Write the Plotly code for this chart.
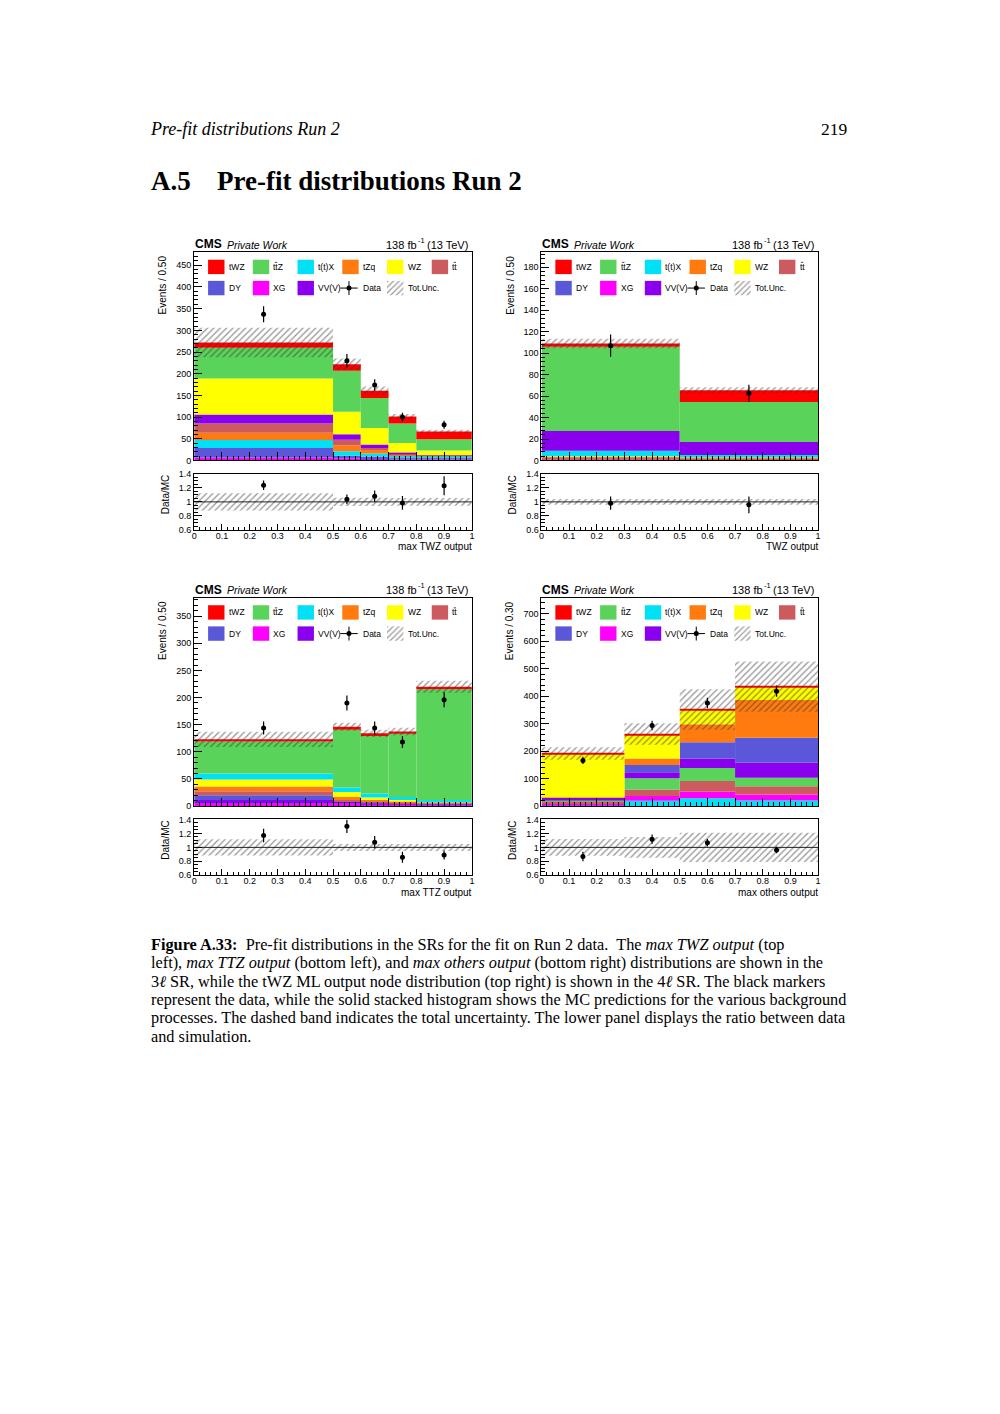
import numpy as np
import plotly.graph_objects as go

# page coordinates are those of the 1000x1414 page; the figure sits inside the 8px body margin
OFF = 8
WF, HF = 984, 1398

# ---------------- data ----------------
proc_labels = {"tWZ": "tWZ", "ttZ": "ttZ", "ttX": "t(t)X", "tZq": "tZq", "WZ": "WZ",
               "tt": "tt", "DY": "DY", "XG": "XG", "VVV": "VV(V)"}
overlined = {"ttZ", "tt"}
proc_colors = {"tWZ": "#ff0000", "ttZ": "#5ad35a", "ttX": "#00e1f5", "tZq": "#ff7b10",
               "WZ": "#ffff00", "tt": "#cc5b60", "DY": "#5b57d9", "XG": "#ff00ff",
               "VVV": "#8a00ee"}
legend_rows = [["tWZ", "ttZ", "ttX", "tZq", "WZ", "tt"], ["DY", "XG", "VVV"]]

# Panel A: max TWZ output (3l SR)
a_edges = [0.0, 0.5, 0.6, 0.7, 0.8, 1.0]
a_order = ["XG", "DY", "ttX", "tZq", "tt", "VVV", "WZ", "ttZ", "tWZ"]
a_yields = {
    "XG": [7, 5, 4, 3, 3],
    "DY": [22, 6, 4.5, 3, 4],
    "ttX": [18, 10.5, 7.5, 4.5, 4],
    "tZq": [17, 13.5, 8, 2, 0.5],
    "tt": [21, 13, 5, 2, 0.5],
    "VVV": [21, 12.5, 8, 4, 0.5],
    "WZ": [83, 52, 38, 22, 10.5],
    "ttZ": [71, 94.5, 69, 44.5, 26],
    "tWZ": [12, 15, 17, 16.5, 18],
}
a_data = [337, 230, 174, 100, 82.5]
a_data_err = [18.4, 15.2, 13.2, 10.0, 9.1]
a_unc_rel = [0.125, 0.06, 0.06, 0.055, 0.055]

# Panel B: TWZ output (4l SR)
b_edges = [0.0, 0.5, 1.0]
b_order = ["XG", "tt", "DY", "tZq", "WZ", "ttX", "VVV", "ttZ", "tWZ"]
b_yields = {
    "XG": [1, 1],
    "tt": [2.5, 1.5],
    "DY": [0, 0],
    "tZq": [0.3, 0.2],
    "WZ": [0.2, 0.1],
    "ttX": [5, 2.2],
    "VVV": [18.5, 12.3],
    "ttZ": [78.5, 37.2],
    "tWZ": [3, 11],
}
b_data = [107, 62.7]
b_data_err = [10.3, 7.9]
b_unc_rel = [0.04, 0.04]

# Panel C: max TTZ output (3l SR)
c_edges = [0.0, 0.5, 0.6, 0.7, 0.8, 1.0]
c_order = ["XG", "VVV", "DY", "tt", "tZq", "WZ", "ttX", "ttZ", "tWZ"]
c_yields = {
    "XG": [4, 4, 3, 3, 3],
    "VVV": [7, 4, 2, 1.5, 1],
    "DY": [9, 1, 1, 0.5, 0.5],
    "tt": [7, 2, 2, 1.5, 1],
    "tZq": [9, 5.5, 3, 1.5, 0.5],
    "WZ": [13, 9.5, 4.5, 3, 0.5],
    "ttX": [11, 8, 7.5, 5.5, 4.5],
    "ttZ": [59, 106.5, 106, 117.5, 204.5],
    "tWZ": [4, 5.5, 5, 3.5, 4.5],
}
c_data = [144, 190, 144, 118, 196]
c_data_err = [12.0, 13.8, 12.0, 10.9, 14.0]
c_unc_rel = [0.115, 0.05, 0.05, 0.05, 0.05]

# Panel D: max others output (3l SR)
d_edges = [0.0, 0.3, 0.5, 0.7, 1.0]
d_order = ["ttX", "XG", "tt", "ttZ", "VVV", "DY", "tZq", "WZ", "tWZ"]
d_yields = {
    "ttX": [3, 19, 28, 20],
    "XG": [4, 17, 24, 22],
    "tt": [11, 24, 39, 30],
    "ttZ": [2, 41, 47, 31],
    "VVV": [10, 22, 35, 55],
    "DY": [0.5, 26, 59, 90],
    "tZq": [0.5, 24, 66, 138],
    "WZ": [157, 85.5, 50, 45],
    "tWZ": [3, 3.5, 3.5, 3.5],
}
d_data = [166, 293, 375, 418]
d_data_err = [12.9, 17.1, 19.4, 20.4]
d_unc_rel = [0.12, 0.15, 0.21, 0.21]

ratio_ticks = [0.6, 0.8, 1.0, 1.2, 1.4]

caption_lines = [
    "<b>Figure A.33:</b>  Pre-fit distributions in the SRs for the fit on Run 2 data.  The <i>max TWZ output</i> (top",
    "left), <i>max TTZ output</i> (bottom left), and <i>max others output</i> (bottom right) distributions are shown in the",
    "3<i>\u2113</i> SR, while the tWZ ML output node distribution (top right) is shown in the 4<i>\u2113</i> SR. The black markers",
    "represent the data, while the solid stacked histogram shows the MC predictions for the various background",
    "processes. The dashed band indicates the total uncertainty. The lower panel displays the ratio between data",
    "and simulation.",
]

# ---------------- layout geometry (page pixels) ----------------
panels = [
    dict(edges=a_edges, order=a_order, yields=a_yields, data=a_data, err=a_data_err, unc=a_unc_rel,
         ymax=480, dtick=50, minor=10, ytitle="Events / 0.50", xtitle="max TWZ output",
         L=192.3, R=471.7, T=249, B=458.7, RT=472.3, RB=528.5),
    dict(edges=b_edges, order=b_order, yields=b_yields, data=b_data, err=b_data_err, unc=b_unc_rel,
         ymax=194, dtick=20, minor=4, ytitle="Events / 0.50", xtitle="TWZ output",
         L=541.7, R=820.0, T=249, B=458.7, RT=472.3, RB=528.5),
    dict(edges=c_edges, order=c_order, yields=c_yields, data=c_data, err=c_data_err, unc=c_unc_rel,
         ymax=384, dtick=50, minor=10, ytitle="Events / 0.50", xtitle="max TTZ output",
         L=192.3, R=471.7, T=597, B=806.7, RT=820.3, RB=876.5),
    dict(edges=d_edges, order=d_order, yields=d_yields, data=d_data, err=d_data_err, unc=d_unc_rel,
         ymax=758, dtick=100, minor=20, ytitle="Events / 0.30", xtitle="max others output",
         L=541.7, R=820.0, T=597, B=806.7, RT=820.3, RB=876.5),
]

SANS = "Liberation Sans"
SERIF = "Liberation Serif"

fig = go.Figure()
annotations = []
shapes = []
layout = {}


def fx(x):
    return (x - OFF) / WF


def fy(y):
    return 1 - (y - OFF) / HF


def ax_names(i):
    return ("x" if i == 1 else f"x{i}", "y" if i == 1 else f"y{i}",
            "xaxis" if i == 1 else f"xaxis{i}", "yaxis" if i == 1 else f"yaxis{i}")


def txt(x, y, text, size, family=SANS, xanchor="left", yanchor="middle", angle=0):
    annotations.append(dict(x=x, y=y, xref="x9", yref="y9", xanchor=xanchor, yanchor=yanchor,
                            text=text, textangle=angle, showarrow=False, borderpad=0,
                            font=dict(family=family, size=size, color="black")))


hatch = dict(shape="/", fgcolor="#333333", bgcolor="rgba(0,0,0,0)", size=4.5, solidity=0.3,
             fillmode="overlay")

common_axis = dict(showline=True, linecolor="black", linewidth=1, mirror=True, showgrid=False,
                   zeroline=False, ticks="inside", tickcolor="black", tickwidth=1,
                   tickfont=dict(family=SANS, size=9, color="black"))

for k, p in enumerate(panels):
    i1, i2 = 2 * k + 1, 2 * k + 2
    xm, ym, xmk, ymk = ax_names(i1)
    xr, yr, xrk, yrk = ax_names(i2)
    edges = np.array(p["edges"], dtype=float)
    centers = 0.5 * (edges[:-1] + edges[1:])
    widths = np.diff(edges)

    base = np.zeros(len(centers))
    for proc in p["order"]:
        vals = np.array(p["yields"][proc], dtype=float)
        fig.add_trace(go.Bar(x=centers, y=vals, base=base.copy(), width=widths,
                             marker=dict(color=proc_colors[proc], line=dict(width=0)),
                             xaxis=xm, yaxis=ym, showlegend=False, hoverinfo="skip"))
        base = base + vals
    total = base
    unc = np.array(p["unc"]) * total
    fig.add_trace(go.Bar(x=centers, y=2 * unc, base=total - unc, width=widths,
                         marker=dict(color="rgba(0,0,0,0)", line=dict(width=0), pattern=hatch),
                         xaxis=xm, yaxis=ym, showlegend=False, hoverinfo="skip"))
    data = np.array(p["data"], dtype=float)
    err = np.array(p["err"], dtype=float)
    fig.add_trace(go.Scatter(x=centers, y=data, mode="markers",
                             marker=dict(color="black", size=5),
                             error_y=dict(type="data", array=err, color="black", thickness=1.2, width=0),
                             xaxis=xm, yaxis=ym, showlegend=False, hoverinfo="skip"))

    # ratio panel
    rel = np.array(p["unc"])
    fig.add_trace(go.Bar(x=centers, y=2 * rel, base=1 - rel, width=widths,
                         marker=dict(color="rgba(0,0,0,0)", line=dict(width=0), pattern=hatch),
                         xaxis=xr, yaxis=yr, showlegend=False, hoverinfo="skip"))
    fig.add_trace(go.Scatter(x=[0, 1], y=[1, 1], mode="lines", line=dict(color="#222", width=1),
                             xaxis=xr, yaxis=yr, showlegend=False, hoverinfo="skip"))
    fig.add_trace(go.Scatter(x=centers, y=data / total, mode="markers",
                             marker=dict(color="black", size=5),
                             error_y=dict(type="data", array=err / total, color="black", thickness=1.2, width=0),
                             xaxis=xr, yaxis=yr, showlegend=False, hoverinfo="skip"))

    dom_x = [fx(p["L"]), fx(p["R"])]
    layout[xmk] = dict(common_axis, domain=dom_x, anchor=ym, range=[0, 1], showticklabels=False,
                       dtick=0.1, tick0=0, ticklen=8,
                       minor=dict(ticks="inside", ticklen=4, dtick=0.02, tickcolor="black"))
    layout[ymk] = dict(common_axis, domain=[fy(p["B"]), fy(p["T"])], anchor=xm,
                       range=[0, p["ymax"]], dtick=p["dtick"], tick0=0, ticklen=8,
                       minor=dict(ticks="inside", ticklen=4, dtick=p["minor"], tickcolor="black"))
    layout[xrk] = dict(common_axis, domain=dom_x, anchor=yr, range=[0, 1], dtick=0.1, tick0=0,
                       ticklen=6, ticklabelstandoff=-3,
                       minor=dict(ticks="inside", ticklen=3, dtick=0.02, tickcolor="black"))
    layout[yrk] = dict(common_axis, domain=[fy(p["RB"]), fy(p["RT"])], anchor=xr,
                       range=[0.6, 1.4], tickvals=ratio_ticks, ticklen=8,
                       minor=dict(ticks="inside", ticklen=4, dtick=0.05, tickcolor="black"))

    L, R, T = p["L"], p["R"], p["T"]
    # header texts
    txt(L, T - 8, "<b>CMS</b>", 12)
    txt(L + 32, T - 7.5, "<i>Private Work</i>", 10.5)
    txt(R - 3, T - 7.5, "(13 TeV)", 11, xanchor="right")
    txt(R - 55.5, T - 12, "-1", 7.5)
    txt(R - 54.5, T - 7.5, "138 fb", 11, xanchor="right")
    # axis titles
    txt(L - 32, T + 33, p["ytitle"], 10, xanchor="center", angle=-90)
    txt(L - 29, p["RT"] + 21, "Data/MC", 10, xanchor="center", angle=-90)
    txt(R + 1, p["RB"] + 17, p["xtitle"], 10, xanchor="right")

    # legend
    def box_xy(col, row):
        x0 = L + 14 + 45 * col
        y0 = T + 7.5 + 21.3 * row
        return x0, x0 + 16.5, y0, y0 + 14.5

    for row, names in enumerate(legend_rows):
        for col, proc in enumerate(names):
            x0, x1, y0, y1 = box_xy(col, row)
            fig.add_trace(go.Scatter(x=[x0, x1, x1, x0, x0], y=[y0, y0, y1, y1, y0], mode="lines",
                                     fill="toself", fillcolor=proc_colors[proc],
                                     line=dict(width=0, color=proc_colors[proc]),
                                     xaxis="x9", yaxis="y9", showlegend=False, hoverinfo="skip"))
            tx = L + 33.7 + 45 * col
            yc = (y0 + y1) / 2
            txt(tx, yc, proc_labels[proc], 8.5)
            if proc in overlined:
                shapes.append(dict(type="line", xref="x9", yref="y9", x0=tx + 2.4, x1=tx + 4.8,
                                   y0=yc - 4.6, y1=yc - 4.6, line=dict(color="black", width=0.7)))
    # data entry
    x0, x1, y0, y1 = box_xy(3, 1)
    yc = (y0 + y1) / 2
    xc = (x0 + x1) / 2 - 1.5
    fig.add_trace(go.Scatter(x=[x0 - 2, x1 - 1], y=[yc, yc], mode="lines", line=dict(color="black", width=1),
                             xaxis="x9", yaxis="y9", showlegend=False, hoverinfo="skip"))
    fig.add_trace(go.Scatter(x=[xc, xc], y=[yc - 7, yc + 7], mode="lines",
                             line=dict(color="black", width=1),
                             xaxis="x9", yaxis="y9", showlegend=False, hoverinfo="skip"))
    fig.add_trace(go.Scatter(x=[xc], y=[yc], mode="markers",
                             marker=dict(color="black", size=5),
                             xaxis="x9", yaxis="y9", showlegend=False, hoverinfo="skip"))
    txt(L + 33.7 + 45 * 3, yc, "Data", 8.5)
    # tot unc entry
    x0, x1, y0, y1 = box_xy(4, 1)
    fig.add_trace(go.Scatter(x=[x0, x1, x1, x0, x0], y=[y0, y0, y1, y1, y0], mode="lines",
                             fill="toself", fillcolor="rgba(255,255,255,0)",
                             fillpattern=dict(shape="/", fgcolor="#333333", bgcolor="rgba(255,255,255,0)",
                                              size=4, solidity=0.3),
                             line=dict(width=0, color="white"),
                             xaxis="x9", yaxis="y9", showlegend=False, hoverinfo="skip"))
    txt(L + 33.7 + 45 * 4, yc, "Tot.Unc.", 8.5)

# ---------------- page texts ----------------
txt(147, 125, "<i>Pre-fit distributions Run 2</i>", 18, family=SERIF)
txt(851, 125, "219", 17.5, family=SERIF, xanchor="right")
txt(148, 177, "<b>A.5</b>", 27, family=SERIF)
txt(214, 177, "<b>Pre-fit distributions Run 2</b>", 27, family=SERIF)
cap_y = [945, 963.5, 982, 1000.5, 1019, 1037.5]
for yy, line in zip(cap_y, caption_lines):
    txt(148, yy + 1, line, 16.3, family=SERIF)

layout["xaxis9"] = dict(domain=[0, 1], range=[OFF, OFF + WF], visible=False, anchor="y9", fixedrange=True)
layout["yaxis9"] = dict(domain=[0, 1], range=[OFF + HF, OFF], visible=False, anchor="x9", fixedrange=True)

fig.update_layout(**layout)
fig.update_layout(width=WF, height=HF, margin=dict(l=0, r=0, t=0, b=0), paper_bgcolor="white",
                  plot_bgcolor="rgba(0,0,0,0)", barmode="overlay", showlegend=False,
                  annotations=annotations, shapes=shapes)

fig.write_html("out.html")
